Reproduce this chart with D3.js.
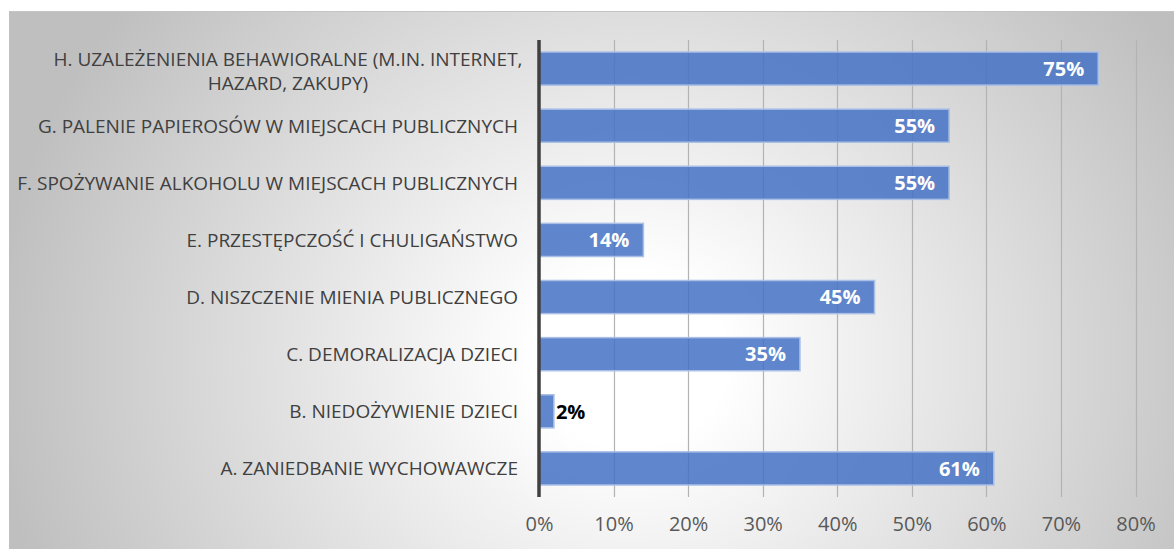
<!DOCTYPE html>
<html><head><meta charset="utf-8">
<script src="https://cdn.jsdelivr.net/npm/d3@7"></script>
<style>html,body{margin:0;padding:0;background:#fff;}svg{display:block;}</style>
</head><body>
<svg id="c" width="1174" height="549"></svg>
<script>
const categories = [
  ["H. UZALEŻENIENIA BEHAWIORALNE (M.IN. INTERNET,", "HAZARD, ZAKUPY)"],
  ["G. PALENIE PAPIEROSÓW W MIEJSCACH PUBLICZNYCH"],
  ["F. SPOŻYWANIE ALKOHOLU W MIEJSCACH PUBLICZNYCH"],
  ["E. PRZESTĘPCZOŚĆ I CHULIGAŃSTWO"],
  ["D. NISZCZENIE MIENIA PUBLICZNEGO"],
  ["C. DEMORALIZACJA DZIECI"],
  ["B. NIEDOŻYWIENIE DZIECI"],
  ["A. ZANIEDBANIE WYCHOWAWCZE"]
];
const keys = ["H","G","F","E","D","C","B","A"];
const values = [0.75, 0.55, 0.55, 0.14, 0.45, 0.35, 0.02, 0.61];
const tickValues = [0,0.1,0.2,0.3,0.4,0.5,0.6,0.7,0.8];

const svg = d3.select("#c");
const defs = svg.append("defs");
const rg = defs.append("radialGradient").attr("id","bg")
  .attr("gradientUnits","userSpaceOnUse")
  .attr("cx",630).attr("cy",360).attr("r",640)
  .attr("gradientTransform","translate(630,360) scale(1,0.9) translate(-630,-360)");
rg.append("stop").attr("offset","0").attr("stop-color","#ffffff");
rg.append("stop").attr("offset","0.15").attr("stop-color","#ffffff");
rg.append("stop").attr("offset","1").attr("stop-color","#bfbfbf");

svg.append("rect").attr("x",9).attr("y",11).attr("width",1174-9).attr("height",549-11)
  .attr("fill","url(#bg)");
svg.append("line").attr("x1",9).attr("x2",1174).attr("y1",11.5).attr("y2",11.5)
  .attr("stroke","#c4c4c4").attr("stroke-width",1);

const x = d3.scaleLinear().domain([0,0.8]).range([539,1135.5]);
const y = d3.scaleBand().domain(keys).range([40,497]).paddingInner(0.42).paddingOuter(0.21);

const font = "'Open Sans', 'Liberation Sans', sans-serif";

// gridlines
svg.append("g").selectAll("line").data(tickValues.slice(1)).join("line")
  .attr("x1",d=>Math.round(x(d))+0.5).attr("x2",d=>Math.round(x(d))+0.5)
  .attr("y1",40).attr("y2",497)
  .attr("stroke","#b3b3b3").attr("stroke-width",1.2);

// bars
svg.append("g").selectAll("rect").data(values).join("rect")
  .attr("x",x(0)).attr("y",(d,i)=>y(keys[i]))
  .attr("width",d=>x(d)-x(0)).attr("height",y.bandwidth())
  .attr("fill","#4472c4").attr("fill-opacity",0.85)
  .attr("stroke","#a9bfe6").attr("stroke-width",1.5);

// value labels
svg.append("g").selectAll("text").data(values).join("text")
  .attr("x",d=> d<0.05 ? x(d)+2 : x(d)-14)
  .attr("y",(d,i)=>y(keys[i])+y.bandwidth()/2)
  .attr("dy","0.36em")
  .attr("text-anchor",d=> d<0.05 ? "start":"end")
  .attr("font-family",font)
  .attr("font-weight","bold").attr("font-size",20)
  .attr("fill",d=> d<0.05 ? "#000":"#fff")
  .text(d=>Math.round(d*100)+"%");

// axis line
svg.append("line").attr("x1",x(0)).attr("x2",x(0)).attr("y1",40).attr("y2",497)
  .attr("stroke","#404040").attr("stroke-width",3.5);

// x tick labels
const xAxis = d3.axisBottom(x).tickValues(tickValues).tickSize(0).tickPadding(0)
  .tickFormat(d=>Math.round(d*100)+"%");
const gx = svg.append("g").attr("transform","translate(0,517)").call(xAxis);
gx.select(".domain").remove();
gx.selectAll("text").attr("font-family",font)
  .attr("font-size",20).attr("fill","#595959");

// category labels
const gc = svg.append("g");
categories.forEach((lines,i)=>{
  const cy = y(keys[i]) + y.bandwidth()/2 + (lines.length>1 ? 3 : 0);
  const lh = 24;
  lines.forEach((ln,j)=>{
    const yy = cy + (j-(lines.length-1)/2)*lh;
    gc.append("text").attr("text-anchor", lines.length>1 ? "middle":"end")
      .attr("font-family",font)
      .attr("font-size",19).attr("fill","#404040")
      .attr("x", lines.length>1 ? 288 : 518).attr("y",yy).attr("dy","0.36em").text(ln);
  });
});
</script>
</body></html>
